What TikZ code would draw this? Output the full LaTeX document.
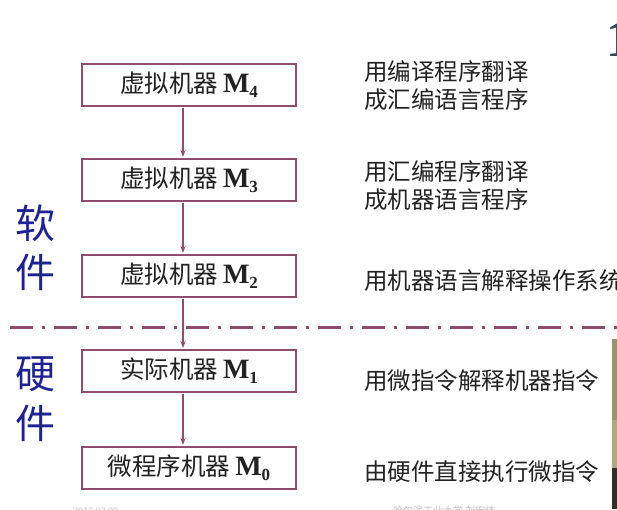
\documentclass[tikz,border=0pt]{standalone}
\usepackage{fontspec}
\setmainfont{Liberation Serif}
\newfontfamily\cjk{Noto Sans CJK SC}
\usetikzlibrary{arrows.meta}
\definecolor{frame}{HTML}{8E4F6E}
\definecolor{lbl}{HTML}{1F2390}
\definecolor{txt}{HTML}{222222}
\definecolor{slate}{HTML}{34465A}
\tikzset{
  mbox/.style={draw=frame, line width=2pt, minimum width=214pt, minimum height=42pt,
    inner sep=0pt, font=\fontsize{24.5}{28}\selectfont, text=txt},
  flow/.style={draw=frame, line width=1.3pt, -{Stealth[length=7pt,width=5pt]}},
  side/.style={font=\cjk\fontsize{40}{44}\selectfont, text=lbl, inner sep=0pt},
  note/.style={font=\cjk\fontsize{23.5}{28}\selectfont, text=txt, anchor=west, inner sep=0pt, align=left},
  sep/.style={draw=frame, line width=3pt, dash pattern=on 23pt off 9pt on 3pt off 9pt},
  foot/.style={font=\fontsize{10}{12}\selectfont, text=black!25, inner sep=0pt}
}
\newcommand{\mlab}[2]{{\cjk #1}\hspace{5pt}{\fontsize{28}{30}\selectfont\bfseries M}\raisebox{-5pt}{\fontsize{17}{18}\selectfont\bfseries #2}}
\begin{document}
\begin{tikzpicture}[x=1pt,y=-1pt]
\useasboundingbox (0,0) rectangle (617,509);
\clip (0,0) rectangle (617,509);
\fill[white] (0,0) rectangle (617,509);
% boxes
\node[mbox] (m4) at (189,85) {\mlab{虚拟机器}{4}};
\node[mbox] (m3) at (189,180) {\mlab{虚拟机器}{3}};
\node[mbox] (m2) at (189,276) {\mlab{虚拟机器}{2}};
\node[mbox] (m1) at (189,371) {\mlab{实际机器}{1}};
\node[mbox] (m0) at (189,468) {\mlab{微程序机器}{0}};
% separator
\coordinate (sl) at (10,327);
\coordinate (sr) at (625,327);
\draw[sep] (sl) -- (sr);
% arrows
\draw[flow] ([xshift=-6pt,yshift=-1pt]m4.south) -- ([xshift=-6pt,yshift=1pt]m3.north);
\draw[flow] ([xshift=-6pt,yshift=-1pt]m3.south) -- ([xshift=-6pt,yshift=1pt]m2.north);
\draw[flow] ([xshift=-6pt,yshift=-1pt]m2.south) -- ([xshift=-6pt,yshift=1pt]m1.north);
\draw[flow] ([xshift=-6pt,yshift=-1pt]m1.south) -- ([xshift=-6pt,yshift=1pt]m0.north);
% side labels
\node[side] (s1) at (35,223) {软};
\node[side] (s2) at (35,272) {件};
\node[side] (h1) at (35,374) {硬};
\node[side] (h2) at (35,423) {件};
% notes
\node[note] (n4) at (364,86) {用编译程序翻译\\成汇编语言程序};
\node[note] (n3) at (364,186) {用汇编程序翻译\\成机器语言程序};
\node[note] (n2) at (364,281) {用机器语言解释操作系统};
\node[note] (n1) at (364,381) {用微指令解释机器指令};
\node[note] (n0) at (364,472) {由硬件直接执行微指令};
% overlay at right edge
\fill[black!55!olive!60] (612,339) rectangle (617,420);
\fill[black!45!olive!50] (612,420) rectangle (617,468);
\fill[black!85!olive] (612,468) rectangle (617,509);
\node[font=\bfseries\fontsize{52}{56}\selectfont, text=slate, anchor=north west, inner sep=0pt] (one) at (606,22) {1};
% footer
\node[foot, anchor=west] (f1) at (73,511) {2015.03.09};
\node[foot, anchor=west, font=\cjk\fontsize{10}{12}\selectfont] (f2) at (393,511) {哈尔滨工业大学 刘宏伟};
\end{tikzpicture}
\end{document}
